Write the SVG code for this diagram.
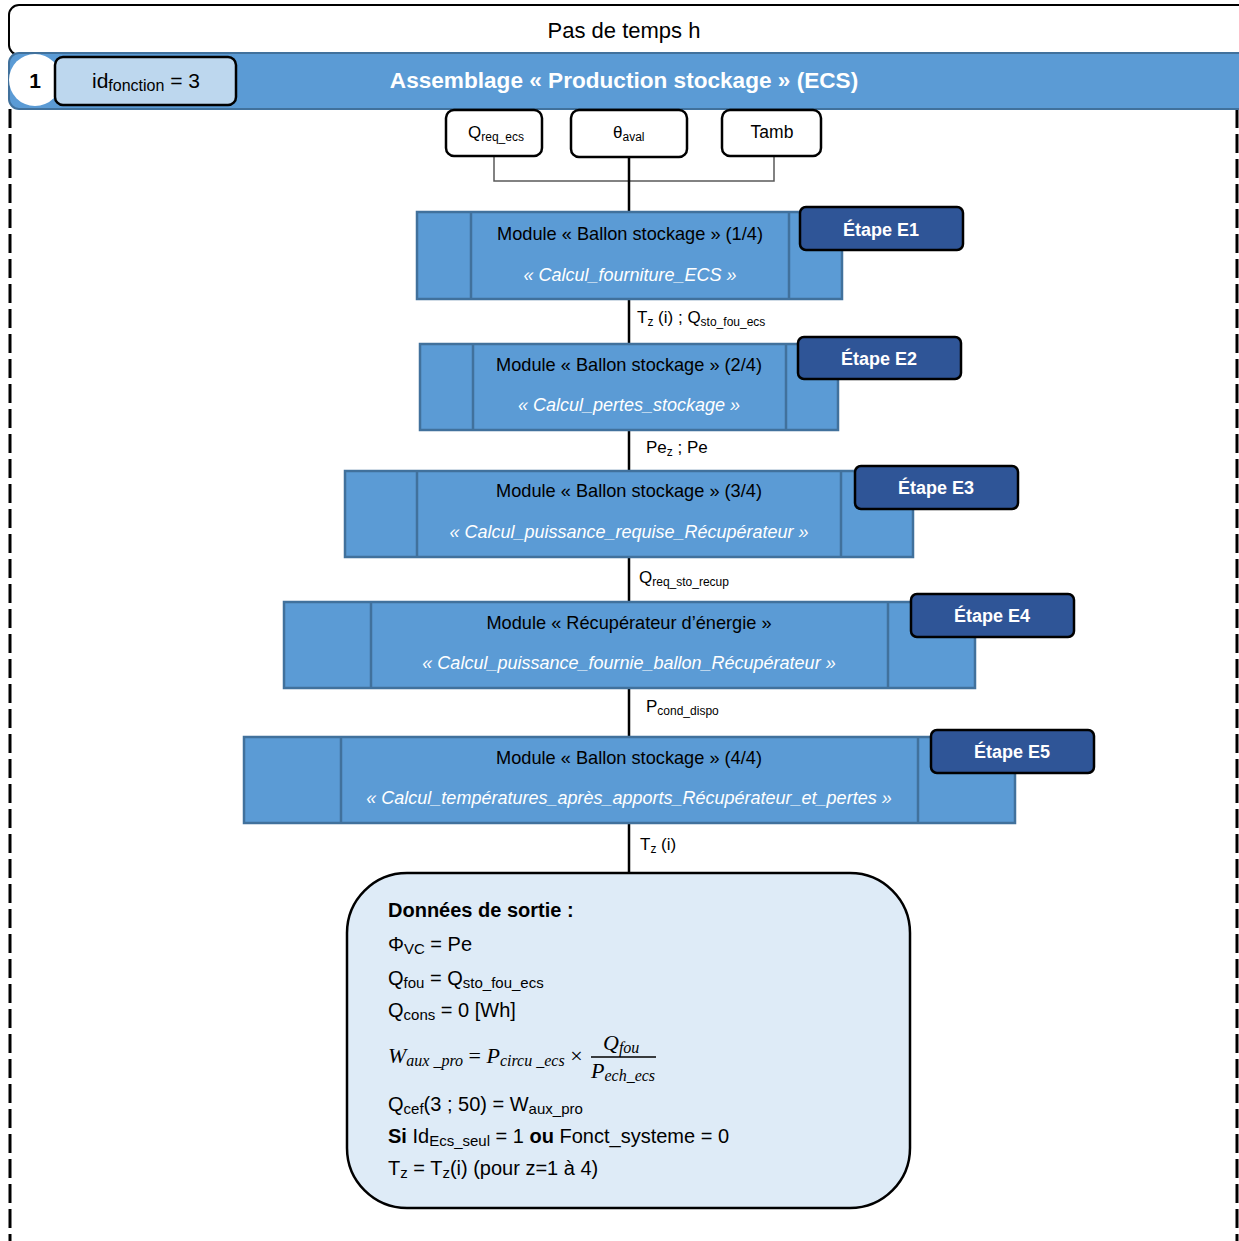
<svg xmlns="http://www.w3.org/2000/svg" width="1239" height="1241" viewBox="0 0 1239 1241">
<style>
text{font-family:"Liberation Sans",Arial,sans-serif;fill:#000}
.mod{fill:#5B9BD5;stroke:#41719C;stroke-width:2.5}
.div{stroke:#41719C;stroke-width:2.5}
.t1{font-size:18.2px;text-anchor:middle}
.t2{font-size:18px;text-anchor:middle;font-style:italic;fill:#fff}
.et{fill:#2F5597;stroke:#000;stroke-width:2.5}
.ett{font-size:18px;font-weight:bold;fill:#fff;text-anchor:middle}
.inp{fill:#fff;stroke:#000;stroke-width:2.5}
.lbl{font-size:17px}
.out{font-size:20px}
.m{font-family:"Liberation Serif","Times New Roman",serif;font-style:italic;font-size:22px}
.dash{stroke:#000;stroke-width:3;stroke-dasharray:19 6;fill:none}
</style>

<g id="frame">
<rect x="9" y="5" width="1240" height="50" rx="10" fill="#fff" stroke="#000" stroke-width="2"/>
<text x="624" y="38" font-size="22" text-anchor="middle">Pas de temps h</text>
<line class="dash" x1="10" y1="109" x2="10" y2="1241"/>
<line class="dash" x1="1237" y1="109" x2="1237" y2="1241"/>
</g>

<g id="header">
<rect x="9" y="53" width="1240" height="56" rx="10" fill="#5B9BD5" stroke="#41719C" stroke-width="2"/>
<text x="624" y="88" font-size="22.6" font-weight="bold" text-anchor="middle" style="fill:#fff">Assemblage « Production stockage » (ECS)</text>
<circle cx="35" cy="80" r="26" fill="#fff"/>
<text x="35" y="88" font-size="21" font-weight="bold" text-anchor="middle">1</text>
</g>

<g id="idfonction">
<rect x="55" y="57" width="181" height="48" rx="8" fill="#BDD7EE" stroke="#000" stroke-width="2.5"/>
<text x="92" y="88" font-size="21">id<tspan font-size="16" dy="3">fonction</tspan><tspan dy="-3"> = 3</tspan></text>
</g>

<g id="connectors">
<polyline points="494,156 494,181 774,181 774,156" fill="none" stroke="#595959" stroke-width="1.5"/>
<line x1="629" y1="157" x2="629" y2="873" stroke="#000" stroke-width="2.5"/>
</g>

<g id="in-qreq">
<rect class="inp" x="446" y="110" width="96" height="46" rx="8"/>
<text x="468" y="138" font-size="17">Q<tspan font-size="12" dy="3">req_ecs</tspan></text>
</g>
<g id="in-theta">
<rect class="inp" x="571" y="110" width="116" height="47" rx="8"/>
<text x="613" y="138" font-size="17">θ<tspan font-size="12" dy="3">aval</tspan></text>
</g>
<g id="in-tamb">
<rect class="inp" x="722" y="110" width="99" height="46" rx="8"/>
<text x="772" y="138" font-size="17.5" text-anchor="middle">Tamb</text>
</g>

<g id="module1">
<rect class="mod" x="417" y="212" width="425" height="87"/>
<line class="div" x1="471" y1="212" x2="471" y2="299"/>
<line class="div" x1="789" y1="212" x2="789" y2="299"/>
<text class="t1" x="630" y="240">Module « Ballon stockage » (1/4)</text>
<text class="t2" x="630" y="281" style="fill:#fff">« Calcul_fourniture_ECS »</text>
</g>
<g id="etapeE1">
<rect class="et" x="800" y="207" width="163" height="43" rx="6"/>
<text class="ett" x="881" y="236" style="fill:#fff">Étape E1</text>
</g>
<text class="lbl" x="637" y="323">T<tspan font-size="12" dy="3">z</tspan><tspan dy="-3"> (i) ; Q</tspan><tspan font-size="12" dy="3">sto_fou_ecs</tspan></text>

<g id="module2">
<rect class="mod" x="420" y="344" width="418" height="86"/>
<line class="div" x1="473" y1="344" x2="473" y2="430"/>
<line class="div" x1="786" y1="344" x2="786" y2="430"/>
<text class="t1" x="629" y="371">Module « Ballon stockage » (2/4)</text>
<text class="t2" x="629" y="411" style="fill:#fff">« Calcul_pertes_stockage »</text>
</g>
<g id="etapeE2">
<rect class="et" x="798" y="337" width="163" height="42" rx="6"/>
<text class="ett" x="879" y="365" style="fill:#fff">Étape E2</text>
</g>
<text class="lbl" x="646" y="453">Pe<tspan font-size="12" dy="3">z</tspan><tspan dy="-3"> ; Pe</tspan></text>

<g id="module3">
<rect class="mod" x="345" y="471" width="568" height="86"/>
<line class="div" x1="417" y1="471" x2="417" y2="557"/>
<line class="div" x1="841" y1="471" x2="841" y2="557"/>
<text class="t1" x="629" y="497">Module « Ballon stockage » (3/4)</text>
<text class="t2" x="629" y="538" style="fill:#fff">« Calcul_puissance_requise_Récupérateur »</text>
</g>
<g id="etapeE3">
<rect class="et" x="855" y="466" width="163" height="43" rx="6"/>
<text class="ett" x="936" y="494" style="fill:#fff">Étape E3</text>
</g>
<text class="lbl" x="639" y="583">Q<tspan font-size="12" dy="3">req_sto_recup</tspan></text>

<g id="module4">
<rect class="mod" x="284" y="602" width="691" height="86"/>
<line class="div" x1="371" y1="602" x2="371" y2="688"/>
<line class="div" x1="888" y1="602" x2="888" y2="688"/>
<text class="t1" x="629" y="629">Module « Récupérateur d’énergie »</text>
<text class="t2" x="629" y="669" style="fill:#fff">« Calcul_puissance_fournie_ballon_Récupérateur »</text>
</g>
<g id="etapeE4">
<rect class="et" x="911" y="594" width="163" height="43" rx="6"/>
<text class="ett" x="992" y="622" style="fill:#fff">Étape E4</text>
</g>
<text class="lbl" x="646" y="712">P<tspan font-size="12" dy="3">cond_dispo</tspan></text>

<g id="module5">
<rect class="mod" x="244" y="737" width="771" height="86"/>
<line class="div" x1="341" y1="737" x2="341" y2="823"/>
<line class="div" x1="918" y1="737" x2="918" y2="823"/>
<text class="t1" x="629" y="764">Module « Ballon stockage » (4/4)</text>
<text class="t2" x="629" y="804" style="fill:#fff">« Calcul_températures_après_apports_Récupérateur_et_pertes »</text>
</g>
<g id="etapeE5">
<rect class="et" x="931" y="730" width="163" height="43" rx="6"/>
<text class="ett" x="1012" y="758" style="fill:#fff">Étape E5</text>
</g>
<text class="lbl" x="640" y="850">T<tspan font-size="12" dy="3">z</tspan><tspan dy="-3"> (i)</tspan></text>

<g id="output">
<rect x="347" y="873" width="563" height="335" rx="60" fill="#DEEBF7" stroke="#000" stroke-width="2.5"/>
<text class="out" x="388" y="917" font-weight="bold">Données de sortie :</text>
<text class="out" x="388" y="951">Φ<tspan font-size="15" dy="3">VC</tspan><tspan dy="-3"> = Pe</tspan></text>
<text class="out" x="388" y="985">Q<tspan font-size="15" dy="3">fou</tspan><tspan dy="-3"> = Q</tspan><tspan font-size="15" dy="3">sto_fou_ecs</tspan></text>
<text class="out" x="388" y="1017">Q<tspan font-size="15" dy="3">cons</tspan><tspan dy="-3"> = 0 [Wh]</tspan></text>
<text class="m" x="388" y="1063">W<tspan font-size="16" dy="3">aux _pro</tspan><tspan dy="-3" font-style="normal">  = </tspan>P<tspan font-size="16" dy="3">circu _ecs</tspan><tspan dy="-3" font-style="normal"> × </tspan></text>
<text class="m" x="603" y="1050">Q<tspan font-size="16" dy="3">fou</tspan></text>
<line x1="591" y1="1057" x2="656" y2="1057" stroke="#000" stroke-width="1.5"/>
<text class="m" x="591" y="1078">P<tspan font-size="16" dy="3">ech_ecs</tspan></text>
<text class="out" x="388" y="1111">Q<tspan font-size="15" dy="3">cef</tspan><tspan dy="-3">(3 ; 50) = W</tspan><tspan font-size="15" dy="3">aux_pro</tspan></text>
<text class="out" x="388" y="1143"><tspan font-weight="bold">Si</tspan> Id<tspan font-size="15" dy="3">Ecs_seul</tspan><tspan dy="-3"> = 1 </tspan><tspan font-weight="bold">ou</tspan> Fonct_systeme = 0</text>
<text class="out" x="388" y="1175">T<tspan font-size="15" dy="3">z</tspan><tspan dy="-3"> = T</tspan><tspan font-size="15" dy="3">z</tspan><tspan dy="-3">(i) (pour z=1 à 4)</tspan></text>
</g>
</svg>
